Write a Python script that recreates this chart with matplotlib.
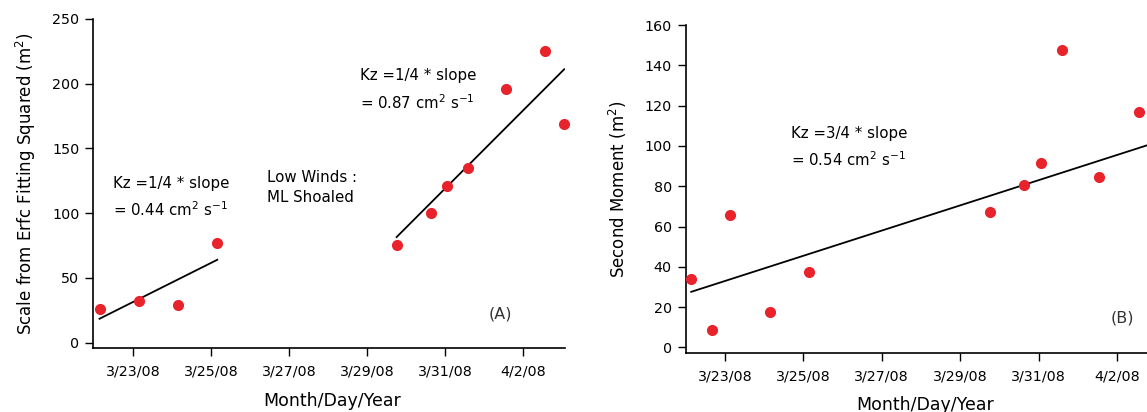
import numpy as np
import pandas as pd
import matplotlib
matplotlib.use('Agg')
import matplotlib.pyplot as plt
import matplotlib.dates as mdates

# ---------------- data ----------------
# Panel A: scale from erfc fitting squared (m^2)
a_times = ['2008-03-22 03:07', '2008-03-23 03:07', '2008-03-24 03:22', '2008-03-25 03:36',
           '2008-03-29 18:00', '2008-03-30 15:07', '2008-03-31 01:12', '2008-03-31 14:10',
           '2008-04-01 13:12', '2008-04-02 13:12', '2008-04-03 01:12']
a_scale = [26.0, 32.4, 29.0, 77.2, 75.3, 99.8, 120.9, 134.5, 196.0, 225.0, 169.0]

# Panel A fit lines
a_fit1_times = ['2008-03-22 03:07', '2008-03-25 03:36']
a_fit1_vals = [18.5, 64.0]
a_fit2_times = ['2008-03-29 18:00', '2008-04-03 01:12']
a_fit2_vals = [81.5, 211.0]

# Panel B: second moment (m^2)
b_times = ['2008-03-22 03:22', '2008-03-22 16:05', '2008-03-23 03:22', '2008-03-24 03:22',
           '2008-03-25 03:36', '2008-03-29 18:00', '2008-03-30 15:22', '2008-03-31 01:12',
           '2008-03-31 14:10', '2008-04-01 12:58', '2008-04-02 13:12']
b_moment = [34.2, 8.6, 65.7, 17.4, 37.2, 67.3, 80.6, 91.7, 147.7, 84.5, 116.6]

# Panel B fit line
b_fit_times = ['2008-03-22 03:22', '2008-04-03 04:48']
b_fit_vals = [27.6, 103.0]

tick_dates = ['2008-03-23', '2008-03-25', '2008-03-27', '2008-03-29', '2008-03-31', '2008-04-02']
tick_labels = ['3/23/08', '3/25/08', '3/27/08', '3/29/08', '3/31/08', '4/2/08']

a_yticks = [0, 50, 100, 150, 200, 250]
b_yticks = [0, 20, 40, 60, 80, 100, 120, 140, 160]

# ---------------- helpers ----------------
def dn(lst):
    return mdates.date2num(pd.to_datetime(lst).to_pydatetime())

base = mdates.date2num(pd.Timestamp('2008-03-23').to_pydatetime())

plt.rcParams['font.family'] = ['DejaVu Sans']
plt.rcParams['mathtext.fontset'] = 'dejavusans'

RED = '#e8232b'
W, H = 1147, 412
fig = plt.figure(figsize=(W / 100, H / 100), dpi=100)

def style(ax):
    for s in ['top', 'right']:
        ax.spines[s].set_visible(False)
    for s in ['left', 'bottom']:
        ax.spines[s].set_linewidth(1.2)
    ax.tick_params(direction='out', length=6, width=1.0, labelsize=10.3, colors='black')
    ax.tick_params(axis='x', pad=6)
    ax.tick_params(axis='y', pad=4)
    ax.set_xticks(dn(tick_dates))
    ax.set_xticklabels(tick_labels)

# ---------------- Panel A ----------------
axA = fig.add_axes([93.3 / W, (H - 348.3) / H, (565 - 93.3) / W, (348.3 - 18.7) / H])
axA.plot(dn(a_fit1_times), a_fit1_vals, color='black', lw=1.3, zorder=2)
axA.plot(dn(a_fit2_times), a_fit2_vals, color='black', lw=1.3, zorder=2)
axA.plot(dn(a_times), a_scale, 'o', color=RED, ms=7, mec=RED, zorder=3, clip_on=False)
axA.set_xlim(base - 1.03, base + 11.07)
axA.set_ylim(-4.3, 250)
axA.set_yticks(a_yticks)
style(axA)
axA.set_ylabel('Scale from Erfc Fitting Squared (m$^{2}$)', fontsize=12, va='center')
axA.yaxis.set_label_coords(-0.143, 0.5)
axA.set_xlabel('Month/Day/Year', fontsize=12.5, va='center')
axA.xaxis.set_label_coords(0.506, -0.16)

tk = dict(fontsize=10.8, color='black', va='center', ha='left')
axA.text(base - 0.52, 123.2, 'Kz =1/4 * slope', **tk)
axA.text(base - 0.52, 102.6, '= 0.44 cm$^{2}$ s$^{-1}$', **tk)
axA.text(base + 3.42, 127.8, 'Low Winds :', **tk)
axA.text(base + 3.42, 112.4, 'ML Shoaled', **tk)
axA.text(base + 5.81, 205.8, 'Kz =1/4 * slope', **tk)
axA.text(base + 5.81, 185.2, '= 0.87 cm$^{2}$ s$^{-1}$', **tk)
axA.text(base + 9.42, 22.4, '(A)', fontsize=11.5, color='#333333', va='center', ha='center')

# ---------------- Panel B ----------------
axB = fig.add_axes([685.7 / W, (H - 353.3) / H, (1164 - 685.7) / W, (353.3 - 25) / H])
axB.plot(dn(b_fit_times), b_fit_vals, color='black', lw=1.3, zorder=2)
axB.plot(dn(b_times), b_moment, 'o', color=RED, ms=7, mec=RED, zorder=3, clip_on=False)
axB.set_xlim(base - 1.0, base + 11.2)
axB.set_ylim(-2.9, 160)
axB.set_yticks(b_yticks)
style(axB)
axB.set_ylabel('Second Moment (m$^{2}$)', fontsize=12, va='center')
axB.yaxis.set_label_coords(-0.1407, 0.5)
axB.set_xlabel('Month/Day/Year', fontsize=12.5, va='center')
axB.xaxis.set_label_coords(0.5, -0.157)

axB.text(base + 1.68, 106.2, 'Kz =3/4 * slope', **tk)
axB.text(base + 1.68, 93.0, '= 0.54 cm$^{2}$ s$^{-1}$', **tk)
axB.text(base + 10.15, 14.4, '(B)', fontsize=11.5, color='#333333', va='center', ha='center')

fig.savefig('out.png', dpi=100)
